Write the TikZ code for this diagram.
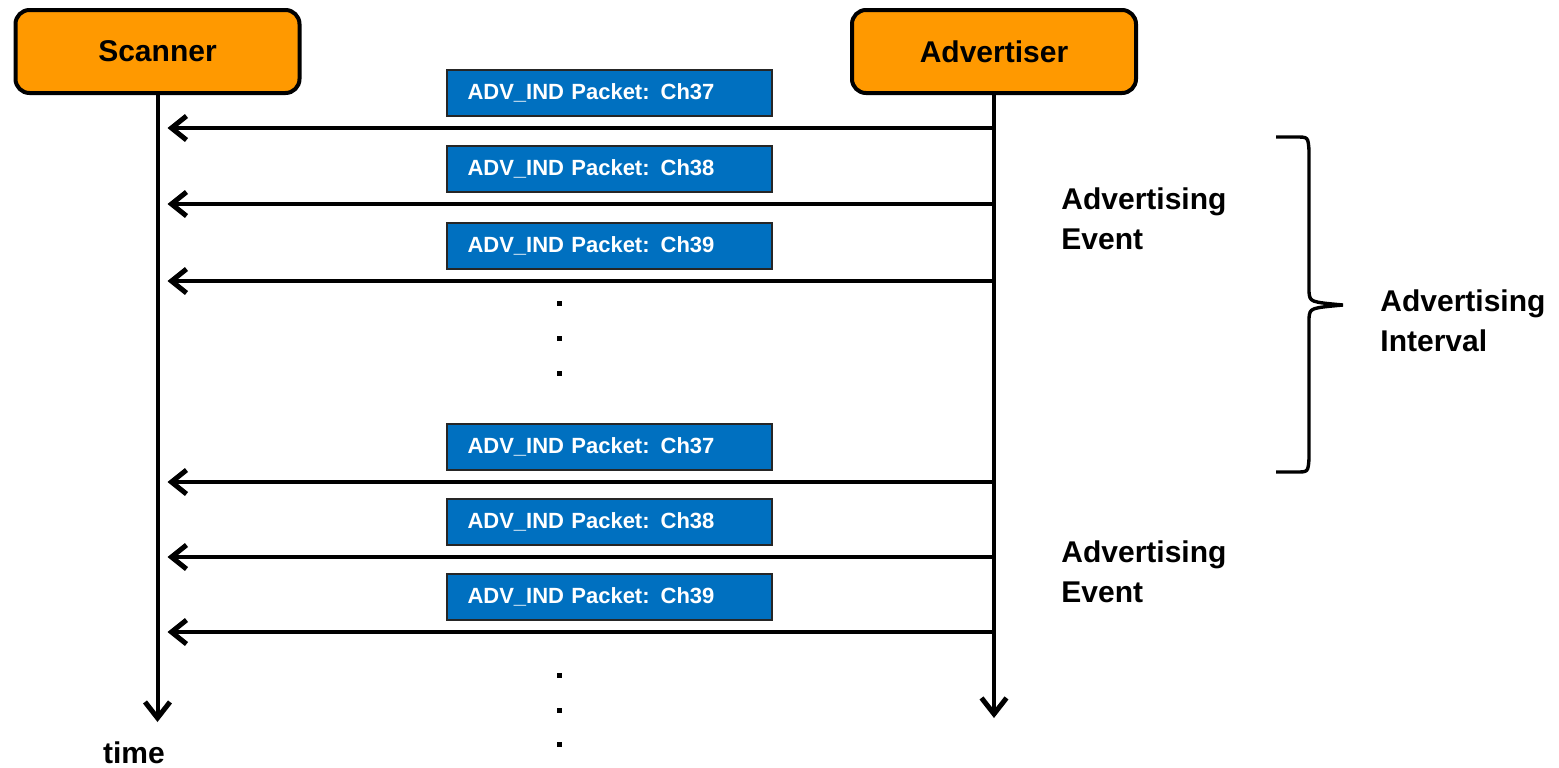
\documentclass[tikz,border=0pt]{standalone}
\usepackage{fontspec}
\setmainfont{Liberation Sans}
\usetikzlibrary{arrows.meta}
\definecolor{actorfill}{RGB}{255,153,0}
\definecolor{pktfill}{RGB}{0,112,192}
\tikzset{
  actor/.style={draw,line width=2pt,rounded corners=7pt,fill=actorfill,
    minimum width=142pt,minimum height=41.5pt,font=\fontsize{15}{18}\selectfont\bfseries},
  pkt/.style={draw=black!85,line width=1pt,fill=pktfill,text=white,minimum height=23pt,
    text width=141.5pt,inner xsep=10.5pt,font=\fontsize{11}{13}\selectfont\bfseries},
  msg/.style={line width=2pt,-{Straight Barb[length=7.5pt,width=12pt,line width=2.5pt]},shorten >=5pt},
  lifeline/.style={line width=2pt,-{Straight Barb[length=8pt,width=12.5pt,line width=2.5pt]}},
  lbl/.style={align=left,inner sep=0pt,font=\fontsize{15}{20}\selectfont\bfseries},
}
\def\dotcol#1{\foreach \y in {#1} \fill (556.5,\y-2.5) rectangle ++(5,5);}

\begin{document}
\begin{tikzpicture}[x=0.5pt,y=-0.5pt]
  \useasboundingbox (0,0) rectangle (1559,767);
  \node[actor] (scan) at (157.5,51.5) {Scanner};
  \node[actor] (adv) at (994,51.5) {Advertiser};
  \node[lbl] (time) at (134,753) {time};
  \draw[lifeline] (scan.south) -- (scan.south |- 0,722);
  \draw[lifeline] (adv.south) -- (adv.south |- 0,718);
  % packets on each channel
  \foreach \y/\ch [count=\i] in {128/37,204/38,281/39,482/37,557/38,632/39}{
    \node[pkt] (pkt\i) at (609,\y-35) {ADV\_IND Packet: Ch\ch};
    \draw[msg] (adv.south |- 0,\y) -- (scan.south |- 0,\y);
  }
  \dotcol{303,338,373}
  \dotcol{675,710,744}
  \node[lbl,anchor=west] (evone) at (1061,219) {Advertising\\Event};
  \node[lbl,anchor=west] (evtwo) at (1061,572) {Advertising\\Event};
  \node[lbl,anchor=west] (intv) at (1380,321) {Advertising\\Interval};
  % brace over one interval
  \draw[line width=1.7pt]
    (1276,137) -- (1296,137) .. controls (1308,137) .. (1309,150) -- (1309,292)
    .. controls (1310,302) .. (1343,305)
    .. controls (1310,308) .. (1309,318) -- (1309,459)
    .. controls (1308,472) .. (1296,472) -- (1276,472);
\end{tikzpicture}
\end{document}
